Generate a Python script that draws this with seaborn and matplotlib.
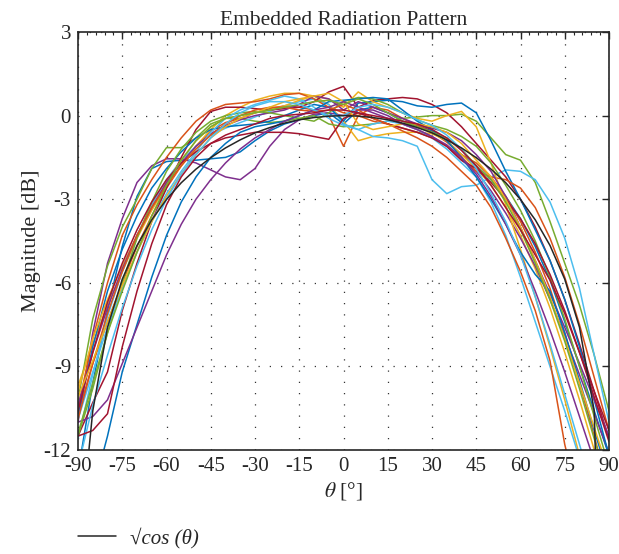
import numpy as np
import pandas as pd
import matplotlib
matplotlib.use("Agg")
import matplotlib.pyplot as plt
import seaborn as sns
from matplotlib.ticker import MultipleLocator

# ---------------- data ----------------
theta = list(range(-90, 91, 5))

ref_cos = [-16.0, -10.6, -7.6, -5.87, -4.66, -3.74, -3.01, -2.41, -1.92, -1.51, -1.16, -0.87, -0.62, -0.43,
           -0.27, -0.15, -0.07, -0.02, 0.0, -0.02, -0.07, -0.15, -0.27, -0.43, -0.62, -0.87, -1.16, -1.51,
           -1.92, -2.41, -3.01, -3.74, -4.66, -5.87, -7.6, -10.6, -30.0]

el01 = [-12.8, -9.6, -7.0, -4.7, -2.9, -1.9, -1.65, -1.6, -1.6, -1.55, -1.5, -1.3, -0.9, -0.55, -0.3, -0.15, 0.0, 0.1,
        -0.3, 0.2, 0.3, 0.1, -0.2, -0.35, -0.55, -0.9, -1.4, -1.8, -2.3, -2.9, -3.7, -4.7, -5.9, -7.4, -9.0, -10.6, -12.2]
el02 = [-10.7, -8.9, -7.4, -6.0, -4.7, -3.6, -2.6, -1.8, -1.1, -0.55, -0.25, -0.1, 0.1, 0.25, 0.35, 0.3, 0.2, 0.0,
        -1.1, 0.0, 0.3, 0.2, -0.1, -0.35, -0.6, -0.95, -1.4, -1.7, -2.2, -2.9, -3.8, -4.9, -6.2, -7.8, -9.6, -11.5, -13.5]
el03 = [-9.7, -8.2, -6.8, -5.6, -4.4, -3.4, -2.5, -1.8, -1.1, -0.5, 0.0, 0.3, 0.55, 0.7, 0.8, 0.8, 0.7, 0.4,
        -0.2, -0.9, -0.75, -0.65, -0.6, -0.6, -0.65, -0.9, -1.4, -1.9, -2.5, -3.3, -4.3, -5.5, -6.9, -8.5, -10.2, -12.0, -13.8]
el04 = [-11.0, -7.8, -5.3, -3.7, -2.4, -1.8, -1.55, -1.55, -1.7, -1.95, -2.2, -2.3, -1.9, -1.1, -0.5, -0.15, 0.05, 0.1,
        0.0, 0.2, 0.2, 0.0, -0.3, -0.5, -0.75, -1.1, -1.6, -2.0, -2.7, -3.5, -4.4, -5.4, -6.6, -7.9, -9.3, -10.7, -12.1]
el05 = [-10.2, -7.3, -5.4, -4.0, -3.0, -1.9, -1.15, -1.15, -0.8, -0.3, -0.1, -0.1, -0.2, -0.25, -0.2, -0.1, 0.0, -0.3,
        -0.4, -0.35, -0.3, -0.2, -0.1, -0.05, 0.0, 0.0, 0.05, -0.2, -0.8, -1.4, -1.6, -2.4, -3.8, -5.3, -6.8, -8.6, -10.6]
el06 = [-11.6, -9.3, -7.2, -5.6, -4.3, -3.2, -2.3, -1.6, -1.1, -0.7, -0.45, -0.25, -0.05, 0.15, 0.35, 0.5, 0.6, 0.4,
        -0.3, -0.5, -0.75, -0.8, -0.9, -1.1, -2.3, -2.8, -2.55, -2.5, -2.2, -1.95, -2.0, -2.3, -3.1, -4.4, -6.2, -8.6, -11.0]
el07 = [-11.5, -10.3, -9.2, -7.0, -5.3, -3.8, -2.6, -1.5, -0.5, 0.15, 0.3, 0.3, 0.25, 0.2, 0.25, 0.3, 0.5, 0.85,
        1.05, 0.3, 0.55, 0.6, 0.65, 0.6, 0.4, 0.1, -0.4, -1.0, -1.6, -2.2, -3.0, -4.0, -5.2, -6.6, -8.2, -9.9, -11.6]
el08 = [-10.7, -8.3, -6.3, -4.8, -3.6, -2.6, -1.9, -1.3, -0.8, -0.5, -0.4, -0.35, -0.3, -0.2, 0.0, 0.2, 0.4, 0.3,
        -0.2, 0.45, 0.5, 0.55, 0.5, 0.35, 0.3, 0.4, 0.45, 0.1, -0.9, -2.0, -3.0, -4.1, -5.2, -6.6, -8.3, -10.2, -12.2]
el09 = [-10.5, -8.0, -6.0, -4.3, -3.2, -2.3, -1.5, -0.8, -0.2, 0.2, 0.4, 0.45, 0.5, 0.6, 0.75, 0.8, 0.6, 0.3,
        0.1, 0.0, -0.2, -0.3, -0.45, -0.6, -0.8, -1.1, -1.5, -2.0, -2.2, -2.3, -2.6, -3.3, -4.4, -5.8, -7.5, -9.4, -11.3]
el10 = [-9.9, -8.0, -6.6, -5.4, -4.3, -3.3, -2.4, -1.6, -0.9, -0.4, -0.1, 0.0, 0.1, 0.2, 0.35, 0.55, 0.7, 0.6,
        0.3, 0.85, 0.5, 0.3, 0.1, -0.1, -0.2, 0.0, 0.15, -0.4, -1.7, -3.2, -4.8, -6.5, -8.3, -10.2, -12.2, -14.0, -16.0]
el11 = [-10.4, -8.5, -6.9, -5.5, -4.3, -3.3, -2.4, -1.7, -1.1, -0.65, -0.35, -0.15, 0.0, 0.1, 0.2, 0.4, 0.7, 0.6,
        0.2, 0.5, 0.3, 0.1, -0.1, -0.3, -0.45, -0.6, -0.9, -1.4, -2.0, -2.9, -4.0, -5.2, -6.4, -7.6, -8.9, -10.2, -11.5]
el12 = [-11.5, -9.8, -7.8, -6.0, -4.4, -3.1, -2.0, -1.2, -0.6, -0.2, 0.0, 0.1, 0.15, 0.1, 0.0, -0.1, -0.2, 0.1,
        0.5, 0.65, 0.6, 0.4, 0.1, -0.15, -0.35, -0.5, -0.75, -1.1, -1.7, -2.5, -3.4, -4.5, -5.8, -7.3, -9.0, -10.8, -12.6]
el13 = [-10.9, -9.2, -7.6, -6.2, -4.9, -3.8, -2.8, -2.0, -1.3, -0.6, -0.1, 0.2, 0.4, 0.55, 0.7, 0.6, 0.3, -0.1,
        -0.35, -0.5, -0.3, -0.2, -0.3, -0.5, -0.8, -1.2, -1.7, -2.2, -3.1, -4.3, -5.8, -7.4, -9.0, -10.6, -12.3, -14.0, -16.0]
el14 = [-10.6, -8.5, -6.7, -5.3, -4.1, -3.1, -2.3, -1.7, -1.3, -1.0, -0.8, -0.7, -0.6, -0.6, -0.6, -0.65, -0.75, -0.85,
        -0.1, 0.1, -0.1, -0.3, -0.45, -0.6, -0.8, -1.1, -1.6, -1.9, -2.4, -3.0, -3.7, -4.6, -5.7, -7.0, -8.5, -10.1, -11.7]
el15 = [-15.5, -13.5, -11.5, -9.2, -7.5, -5.8, -4.3, -3.1, -2.2, -1.5, -1.0, -0.6, -0.4, -0.3, -0.2, 0.0, 0.2, 0.5,
        0.55, 0.6, 0.65, 0.6, 0.2, -0.2, -0.5, -0.9, -1.5, -2.2, -3.0, -3.9, -4.9, -5.7, -6.3, -7.8, -9.5, -11.3, -13.0]
el16 = [-10.9, -8.9, -7.1, -5.6, -4.3, -3.3, -2.5, -1.8, -1.2, -0.7, -0.3, 0.0, 0.2, 0.3, 0.3, 0.2, 0.15, 0.2,
        0.4, 0.2, -0.1, -0.3, -0.55, -0.8, -1.1, -1.5, -2.0, -2.5, -3.3, -4.4, -5.6, -7.0, -8.8, -11.8, -14.0, -16.0, -18.0]
el17 = [-10.1, -8.8, -7.4, -6.1, -4.9, -3.8, -2.9, -2.1, -1.4, -0.8, -0.4, -0.1, 0.1, 0.3, 0.5, 0.6, 0.7, 0.8,
        0.5, -0.3, -0.5, -0.4, -0.3, -0.3, -0.4, -0.6, -1.0, -1.6, -2.2, -3.0, -4.0, -5.2, -6.5, -8.0, -9.6, -11.2, -12.8]
el18 = [-11.0, -10.8, -10.2, -8.9, -7.6, -6.3, -5.0, -3.9, -3.0, -2.3, -1.7, -1.2, -0.8, -0.5, -0.2, 0.0, 0.2, 0.3,
        0.5, 0.3, 0.1, -0.1, -0.3, -0.5, -0.75, -1.05, -1.5, -2.1, -2.9, -3.9, -5.0, -6.3, -7.7, -9.2, -10.8, -12.4, -14.0]
el19 = [-11.4, -9.6, -7.8, -6.3, -4.9, -3.6, -2.5, -1.6, -0.9, -0.4, -0.1, 0.0, 0.1, 0.2, 0.3, 0.4, 0.5, 0.55,
        0.4, 0.6, 0.4, 0.1, -0.2, -0.4, -0.6, -0.8, -1.2, -1.8, -2.3, -3.1, -4.1, -5.3, -6.6, -8.1, -9.8, -11.6, -13.4]
el20 = [-12.6, -10.4, -8.6, -6.9, -5.4, -4.1, -3.0, -2.1, -1.4, -0.8, -0.3, 0.1, 0.35, 0.5, 0.5, 0.4, 0.2, 0.0,
        0.0, 0.3, 0.4, 0.3, 0.1, -0.15, -0.35, -0.7, -1.2, -1.9, -2.8, -3.8, -5.0, -6.5, -8.2, -10.0, -11.8, -13.6, -15.5]
el21 = [-11.5, -11.3, -10.7, -8.3, -6.3, -4.6, -3.2, -2.2, -1.5, -1.0, -0.7, -0.5, -0.3, -0.1, 0.0, 0.05, 0.1, 0.2,
        0.2, 0.1, 0.0, -0.1, -0.2, -0.3, -0.5, -0.8, -1.25, -1.8, -2.5, -3.3, -4.1, -5.0, -5.9, -7.1, -8.5, -9.9, -11.3]

elements = [el01, el02, el03, el04, el05, el06, el07, el08, el09, el10, el11,
            el12, el13, el14, el15, el16, el17, el18, el19, el20, el21]

matlab_colors = ["#0072BD", "#D95319", "#EDB120", "#7E2F8E", "#77AC30", "#4DBEEE", "#A2142F"]

title_text = "Embedded Radiation Pattern"
xlabel_text = r"$\theta$ [°]"
ylabel_text = "Magnitude [dB]"
legend_text = "√cos (θ)"
xticks = [-90, -75, -60, -45, -30, -15, 0, 15, 30, 45, 60, 75, 90]
yticks = [-12, -9, -6, -3, 0, 3]

# ---------------- figure ----------------
sns.set_theme(style="white")
plt.rcParams["font.family"] = ["Liberation Serif", "DejaVu Serif"]
plt.rcParams["mathtext.fontset"] = "stix"
plt.rcParams["axes.unicode_minus"] = False

fig = plt.figure(figsize=(6.19, 5.54), dpi=100)
ax = fig.add_axes([78 / 619, 1 - 450 / 554, (609 - 78) / 619, (450 - 32) / 554])

rows = []
for i, vals in enumerate(elements):
    for t, v in zip(theta, vals):
        rows.append({"theta": t, "mag": v, "element": f"E{i+1}"})
df = pd.DataFrame(rows)
palette = {f"E{i+1}": matlab_colors[i % 7] for i in range(len(elements))}

ax.set_axisbelow(True)
for xt in xticks:
    ax.axvline(xt, color="#333333", lw=0.9, ls=(0, (1, 8)), zorder=0)
for yt in yticks:
    ax.axhline(yt, color="#333333", lw=0.9, ls=(0, (1, 8)), zorder=0)

sns.lineplot(data=df, x="theta", y="mag", hue="element", palette=palette,
             legend=False, ax=ax, linewidth=1.1, sort=False, estimator=None)

ref_df = pd.DataFrame({"theta": theta, "mag": ref_cos})
sns.lineplot(data=ref_df, x="theta", y="mag", color="#262626", linewidth=1.1,
             ax=ax, label=legend_text, legend=False)

ax.set_xlim(-90, 90)
ax.set_ylim(-12, 3)
ax.set_xticks(xticks)
ax.set_yticks(yticks)
ax.set_xticklabels([str(x) for x in xticks])
ax.set_yticklabels([str(y) for y in yticks])
ax.xaxis.set_minor_locator(MultipleLocator(3))
ax.tick_params(which="both", direction="in", top=True, right=True, colors="#262626",
               labelsize=15, labelcolor="#262626")
ax.tick_params(which="major", length=5, width=1.0, pad=5)
ax.tick_params(which="minor", length=2.5, width=0.8)
for s in ax.spines.values():
    s.set_color("#262626")
    s.set_linewidth(1.2)

ax.set_title(title_text, fontsize=15.5, color="#262626", pad=5)
ax.set_xlabel(xlabel_text, fontsize=15.5, color="#262626", labelpad=3)
ax.set_ylabel(ylabel_text, fontsize=16, color="#262626", labelpad=2)

handles, labels = ax.get_legend_handles_labels()
leg = fig.legend(handles, labels, loc="center left", bbox_to_anchor=(78 / 619, 1 - 538 / 554),
                 frameon=False, fontsize=15, handlelength=1.8, handletextpad=0.7,
                 borderpad=0, borderaxespad=0, labelcolor="#262626")
for t in leg.get_texts():
    t.set_fontstyle("italic")

fig.savefig("out.png", dpi=100, facecolor="white")
